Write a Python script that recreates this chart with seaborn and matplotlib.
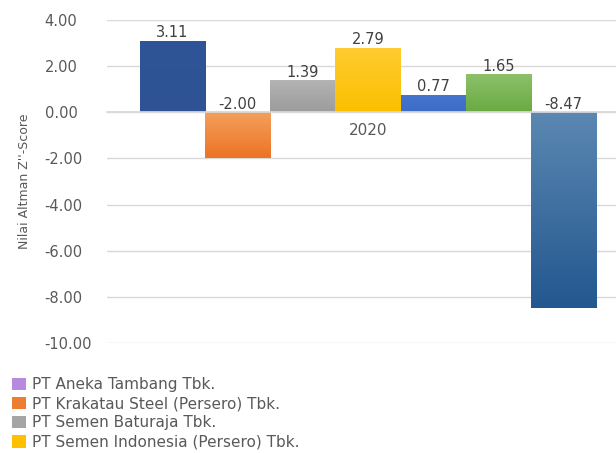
import matplotlib
matplotlib.use("Agg")
import matplotlib.pyplot as plt
import matplotlib.colors as mcolors
import numpy as np
import seaborn as sns
import pandas as pd
from matplotlib.patches import Patch

companies = [
    "PT Aneka Tambang Tbk.",
    "PT Krakatau Steel (Persero) Tbk.",
    "PT Semen Baturaja Tbk.",
    "PT Semen Indonesia (Persero) Tbk.",
    "PT Waskita Beton Precast Tbk.",
    "PT Wijaya Karya Beton Tbk.",
    "PT Waskita Karya (Persero) Tbk.",
]
values = [3.11, -2.00, 1.39, 2.79, 0.77, 1.65, -8.47]
year = ["2020"] * len(companies)
bar_colors = ["#2E5293", "#EC7424", "#9C9C9C", "#FCC000", "#3C6CC6", "#6AAA42", "#23578F"]
bar_top_colors = ["#2F5598", "#F4A05E", "#B4B4B4", "#FFCB30", "#4575CC", "#8DC16A", "#5B88B2"]
legend_colors = ["#B98BE0", "#ED7D31", "#A5A5A5", "#FFC000"]
yticks = [4, 2, 0, -2, -4, -6, -8, -10]

df = pd.DataFrame({"year": year, "company": companies, "value": values})

sns.set_theme(style="white")
plt.rcParams["font.family"] = ["DejaVu Sans"]
text_color = "#595959"

fig = plt.figure(figsize=(6.16, 4.53), dpi=100)
ax = fig.add_axes([107 / 616, 110 / 453, 522 / 616, 323 / 453])

sns.barplot(data=df, x="year", y="value", hue="company", palette=bar_colors,
            width=0.874, gap=0, ax=ax, legend=False, saturation=1,
            edgecolor="none", linewidth=0)

# vertical gradients on bars
for bar, top, bot in zip(ax.patches, bar_top_colors, bar_colors):
    x0, w = bar.get_x(), bar.get_width()
    y0, h = bar.get_y(), bar.get_height()
    lo, hi = min(y0, y0 + h), max(y0, y0 + h)
    c1 = np.array(mcolors.to_rgb(top))
    c2 = np.array(mcolors.to_rgb(bot))
    t = np.linspace(0, 1, 64)[:, None]
    grad = (c1 * (1 - t) + c2 * t)[:, None, :]
    im = ax.imshow(grad, extent=[x0, x0 + w, lo, hi], origin="upper",
                   aspect="auto", zorder=bar.get_zorder() + 0.1, interpolation="bilinear")
    im.set_clip_path(bar)

ax.set_ylim(-10, 4)
ax.set_xlim(-0.5, 0.5)
ax.set_yticks(yticks)
ax.set_yticklabels([f"{t:.2f}" for t in yticks], fontsize=10.5, color=text_color, ha="left")
ax.yaxis.grid(True, color="#D9D9D9", linewidth=1)
ax.set_axisbelow(True)
for s in ["left", "right", "top"]:
    ax.spines[s].set_visible(False)
ax.spines["bottom"].set_position(("data", 0))
ax.spines["bottom"].set_color("#D9D9D9")
ax.tick_params(axis="y", length=0, pad=45)
ax.tick_params(axis="x", length=0, pad=8, labelsize=11, labelcolor=text_color)
ax.set_xlabel("")
ax.set_ylabel("Nilai Altman Z''-Score", fontsize=9, color=text_color, labelpad=10)

for bar, v in zip(ax.patches, values):
    cx = bar.get_x() + bar.get_width() / 2
    ax.annotate(f"{v:.2f}", (cx, max(v, 0)), xytext=(0, 0.5), textcoords="offset points",
                ha="center", va="bottom", fontsize=10.5, color="#404040", zorder=5)

handles = [Patch(facecolor=c, edgecolor="none") for c in legend_colors]
fig.legend(handles, companies[:4], loc="upper left", bbox_to_anchor=(0.0195, 0.168),
           frameon=False, fontsize=11, labelcolor=text_color, handlelength=0.9,
           handleheight=0.85, handletextpad=0.4, labelspacing=0.28, borderaxespad=0,
           borderpad=0)

fig.savefig("out.png", dpi=100)
